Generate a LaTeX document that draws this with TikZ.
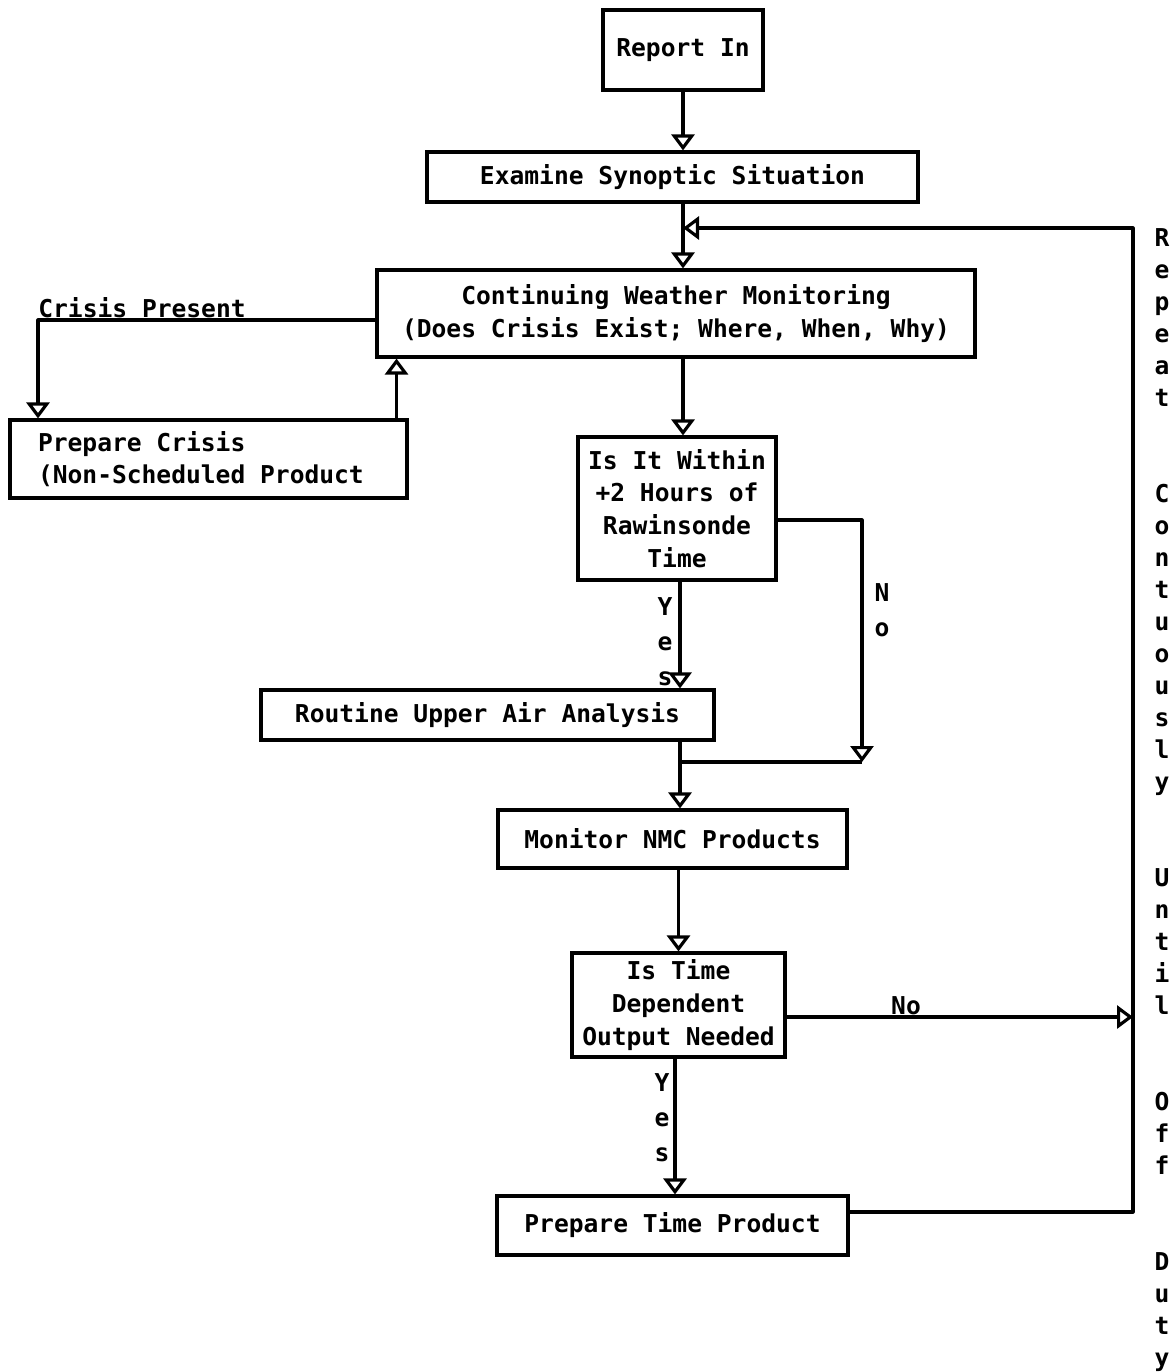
\documentclass[tikz,border=0pt]{standalone}
\usepackage{fontspec}
\setmonofont{DejaVu Sans Mono}
\usetikzlibrary{positioning, arrows.meta}

\tikzset{
  box/.style={draw, line width=1.8pt, font=\ttfamily\bfseries\fontsize{14}{18.6}\selectfont, align=center, inner sep=0pt},
  flow/.style={line width=1.8pt, line join=round, -{Triangle[open, width=0.46cm, length=0.32cm]}},
  wire/.style={line width=1.8pt, line join=round},
  lbl/.style={font=\ttfamily\bfseries\fontsize{14}{19.9}\selectfont, inner sep=0pt, align=center},
}

\begin{document}
\begin{tikzpicture}[x=0.02cm, y=-0.02cm]
	\useasboundingbox[fill=white] (0,0) rectangle (1174,1372);

	% boxes
	\node[box, minimum width=3.2cm, minimum height=1.6cm] (rep) at (683,50) {Report In};
	\node[box, minimum width=9.82cm, minimum height=1.0cm] (exam) at (672.5,177) {Examine Synoptic Situation};
	\node[box, minimum width=11.96cm, minimum height=1.74cm] (cont) at (676,313.5) {Continuing Weather Monitoring\\(Does Crisis Exist; Where, When, Why)};
	\node[box, align=flush left, text width=6.82cm, inner xsep=0.56cm, minimum height=1.56cm] (prep) at (208.5,459) {Prepare Crisis\\(Non-Scheduled Product};
	\node[box, minimum width=3.96cm, minimum height=2.86cm] (within) at (677,508.5) {Is It Within\\+2 Hours of\\Rawinsonde\\Time};
	\node[box, minimum width=9.06cm, minimum height=1.0cm] (routine) at (487.5,715) {Routine Upper Air Analysis};
	\node[box, minimum width=6.98cm, minimum height=1.16cm] (monitor) at (672.5,839) {Monitor NMC Products};
	\node[box, minimum width=4.26cm, minimum height=2.08cm] (istime) at (678.5,1005) {Is Time\\Dependent\\Output Needed};
	\node[box, minimum width=7.02cm, minimum height=1.18cm] (ptime) at (672.5,1225.5) {Prepare Time Product};

	% bends
	\coordinate (trunk) at (683,0);
	\coordinate (loop) at (1133,228);
	\coordinate (crisis) at (38,320);
	\coordinate (split) at (680,762);
	\coordinate (nojoin) at (862,762);

	% connectors
	\draw[flow] (rep.south) -- (rep.south |- exam.north);
	\draw[flow] (exam.south -| trunk) -- (cont.north -| trunk);
	\draw[flow] ([yshift=0.27cm]ptime.east) -| (loop) -- (loop -| trunk);
	\draw[flow] (cont.west |- crisis) -- (crisis) -- (crisis |- prep.north);
	\draw[flow] ([xshift=-0.24cm]prep.north east) -- ([xshift=-0.24cm]prep.north east |- cont.south);
	\draw[flow] (cont.south -| trunk) -- (within.north -| trunk);
	\draw[flow] ([yshift=-0.23cm]within.east) -| (nojoin);
	\draw[flow] (within.south -| split) -- (routine.north -| split);
	\draw[flow] (routine.south -| split) -- (monitor.north -| split);
	\draw[wire] (split) -- (nojoin);
	\draw[flow] (monitor.south -| istime.north) -- (istime.north);
	\draw[flow] ([yshift=-0.24cm]istime.east) -- ([yshift=-0.24cm]istime.east -| loop);
	\draw[flow] ([xshift=-0.07cm]istime.south) -- ([xshift=-0.07cm]istime.south |- ptime.north);

	% labels
	\node[lbl, anchor=base west] (crislbl) at (38,317) {Crisis Present};
	\node[lbl] (yes1) at (665,642) {Y\\e\\s};
	\node[lbl] (no1) at (882,610) {N\\o};
	\node[lbl, anchor=base] (no2) at (906,1014) {No};
	\node[lbl] (yes2) at (662,1118) {Y\\e\\s};
	\node[lbl, font=\ttfamily\bfseries\fontsize{14}{18.2}\selectfont] (side) at (1162,800) {R\\e\\p\\e\\a\\t\\ \\ \\C\\o\\n\\t\\u\\o\\u\\s\\l\\y\\ \\ \\U\\n\\t\\i\\l\\ \\ \\O\\f\\f\\ \\ \\D\\u\\t\\y};
\end{tikzpicture}
\end{document}
